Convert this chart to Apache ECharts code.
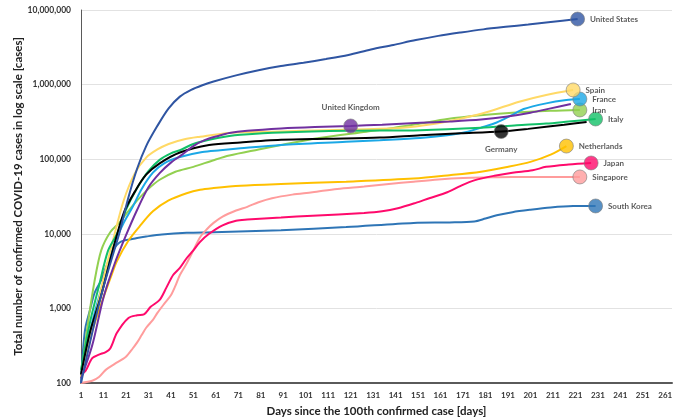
<!DOCTYPE html>
<html><head><meta charset="utf-8">
<script src="https://cdn.jsdelivr.net/npm/echarts@6/dist/echarts.min.js"></script>
<style>html,body{margin:0;padding:0;background:#fff}#c{width:677px;height:418px}</style>
</head><body><div id="c"></div>
<script>
// ---- data (day since 100th case, total confirmed cases) ----
const xTickLabels = [1,11,21,31,41,51,61,71,81,91,101,111,121,131,141,151,161,171,181,191,201,211,221,231,241,251,261];
const yTickValues = [100,1000,10000,100000,1000000,10000000];

const unitedStates = [[1,100],[5,350],[10,1500],[15,5000],[18,10000],[22,30000],[26,75000],[30,150000],[35,280000],[40,480000],[45,690000],[50,850000],[55,980000],[60,1100000],[70,1330000],[80,1560000],[90,1770000],[100,1960000],[110,2200000],[120,2500000],[130,2950000],[140,3400000],[150,3950000],[160,4500000],[170,5000000],[180,5500000],[190,5950000],[200,6400000],[210,6900000],[222,7570000]];
const spain = [[1,120],[6,500],[11,2500],[16,10000],[20,28000],[25,65000],[30,105000],[35,135000],[40,160000],[47,185000],[54,200000],[67,225000],[90,235000],[110,245000],[134,255000],[150,275000],[164,320000],[175,380000],[183,440000],[196,590000],[208,727000],[220,848000]];
const france = [[1,130],[6,650],[11,2300],[16,7500],[20,14000],[24,23000],[28,40000],[33,66000],[38,88000],[45,107000],[55,125000],[63,132000],[72,140000],[90,155000],[119,171000],[134,180000],[152,193000],[164,210000],[172,230000],[180,270000],[186,310000],[192,380000],[198,470000],[208,560000],[217,620000],[223,641000]];
const iran = [[1,120],[4,600],[7,2300],[10,6000],[14,10500],[18,14000],[22,20000],[26,28000],[31,40000],[36,53000],[43,68000],[51,79000],[60,97000],[67,112000],[80,135000],[90,155000],[107,193000],[128,234000],[140,262000],[152,300000],[164,345000],[180,390000],[193,420000],[210,445000],[223,457000]];
const italy = [[1,150],[5,650],[9,2000],[13,5900],[17,10000],[21,21000],[26,41000],[31,69000],[36,98000],[41,120000],[45,132000],[51,160000],[58,182000],[67,205000],[72,213000],[90,228000],[120,240000],[152,245000],[179,264000],[195,285000],[208,300000],[218,320000],[230,346000]];
const germany = [[1,130],[5,480],[10,1500],[15,5800],[20,19000],[25,37000],[30,62000],[36,88000],[45,123000],[58,155000],[72,168000],[90,182000],[110,188000],[134,195000],[152,210000],[170,222000],[188,235000],[200,255000],[216,290000],[226,316000]];
const unitedKingdom = [[1,115],[6,320],[11,1400],[16,4000],[21,9500],[26,21000],[31,42000],[36,65000],[41,90000],[46,115000],[51,150000],[56,180000],[62,205000],[67,224000],[75,240000],[90,258000],[105,270000],[121,279000],[135,290000],[152,307000],[165,320000],[179,340000],[190,370000],[201,420000],[210,480000],[219,550000]];
const netherlands = [[1,128],[6,500],[11,1400],[14,2500],[17,4300],[22,8000],[27,12500],[33,20000],[40,28000],[48,35000],[54,39000],[60,41000],[72,44000],[90,46500],[119,50000],[149,55000],[165,61000],[179,68000],[190,78000],[201,92000],[210,115000],[217,150000]];
const japan = [[1,130],[3,145],[6,215],[9,240],[12,260],[14,290],[17,470],[22,740],[26,810],[29,830],[32,1050],[36,1300],[39,1900],[42,2800],[45,3500],[48,4700],[51,6000],[54,7800],[58,10000],[64,13000],[70,15000],[75,15500],[90,16500],[104,17500],[127,19000],[135,20000],[142,22000],[150,26000],[156,30000],[164,36000],[170,44000],[176,52000],[185,60000],[193,66000],[202,71000],[208,79000],[218,85000],[228,89000]];
const singapore = [[1,100],[6,107],[9,120],[12,150],[16,180],[21,225],[24,290],[26,350],[28,440],[30,550],[33,700],[35,870],[38,1150],[41,1500],[43,2000],[45,2800],[48,4000],[51,6000],[54,9000],[57,11500],[60,14000],[64,17000],[70,20500],[75,23000],[80,26500],[86,30000],[95,33500],[104,36000],[115,40000],[127,43000],[138,46500],[149,50000],[160,53500],[171,56000],[182,57000],[193,57700],[210,57800],[223,57800]];
const southKorea = [[1,100],[2,300],[3,560],[5,950],[7,1600],[10,2400],[12,3500],[14,4900],[16,6500],[18,7600],[20,8100],[22,8300],[26,8800],[30,9200],[37,9800],[48,10300],[60,10500],[90,11200],[119,12300],[149,14000],[165,14200],[176,14600],[181,16000],[186,17700],[193,19500],[201,21000],[210,22500],[220,23500],[230,23600]];

const countryNames = ['South Korea','Singapore','Japan','Netherlands','Iran','France','Spain','Italy','Germany','United Kingdom','United States'];
const countryData  = [southKorea, singapore, japan, netherlands, iran, france, spain, italy, germany, unitedKingdom, unitedStates];
const markerDays   = [230, 223, 228, 217, 223, 223, 220, 230, 188, 121, 222];

// ---- styles ----
const colors = {
  'United States':'#2F55A2','Spain':'#FFD966','France':'#1BA8E6','Iran':'#92D050','Italy':'#12C068',
  'Germany':'#000000','United Kingdom':'#7030A0','Netherlands':'#FFC000','Japan':'#FF0A6C',
  'Singapore':'#FF9C9C','South Korea':'#2E75B6'
};
const labelPlace = {'Germany':'bottom','United Kingdom':'top'};
const FONT = 'Lato, "Open Sans", sans-serif';

const series = countryNames.map((name, i) => ({
  name, type:'line', data: countryData[i], showSymbol:false, smooth:0.3,
  lineStyle:{width:2, color:colors[name]}, itemStyle:{color:colors[name]}, z:2
}));

const markerData = countryNames.map((name, i) => {
  const p = countryData[i].find(d => d[0] === markerDays[i]);
  const pos = labelPlace[name] || 'right';
  return {
    value:[p[0], p[1]], name,
    itemStyle:{color:colors[name], borderColor:'#808080', borderWidth:0.8},
    label:{position:pos, distance: pos === 'right' ? 5 : 7}
  };
});

series.push({
  type:'scatter', data:markerData, symbolSize:14, z:5,
  label:{show:true, formatter:p => p.name, fontFamily:FONT, fontWeight:'bold', fontSize:8, color:'#333'}
});

const chart = echarts.init(document.getElementById('c'), null, {renderer:'canvas'});
chart.setOption({
  animation:false,
  backgroundColor:'#fff',
  grid:{left:81, right:5, top:10, bottom:35, containLabel:false, outerBoundsMode:'none'},
  xAxis:{
    type:'value', min:1, max:264,
    name:'Days since the 100th confirmed case [days]', nameLocation:'middle', nameGap:22, nameMoveOverlap:false,
    nameTextStyle:{fontFamily:FONT, fontWeight:'bold', fontSize:11.5, color:'#222'},
    axisLine:{show:true, lineStyle:{color:'#5a5a5a', width:2}},
    axisTick:{show:false},
    splitLine:{show:false},
    axisLabel:{customValues:xTickLabels, fontFamily:FONT, fontWeight:'bold', fontSize:8, color:'#333', margin:8}
  },
  yAxis:{
    type:'log', logBase:10, min:100, max:10000000,
    name:'Total number of confirmed COVID-19 cases in log scale [cases]', nameLocation:'middle', nameGap:57, nameRotate:90, nameMoveOverlap:false,
    nameTextStyle:{fontFamily:FONT, fontWeight:'bold', fontSize:11.5, color:'#222'},
    axisLine:{show:true, lineStyle:{color:'#5a5a5a', width:1}},
    axisTick:{show:false},
    splitLine:{show:true, lineStyle:{color:'#e2e2e2', width:1}},
    axisLabel:{customValues:yTickValues, formatter:v => Number(v).toLocaleString('en-US'), fontFamily:FONT, fontWeight:'bold', fontSize:8.5, color:'#333', margin:10}
  },
  series
});
</script></body></html>
